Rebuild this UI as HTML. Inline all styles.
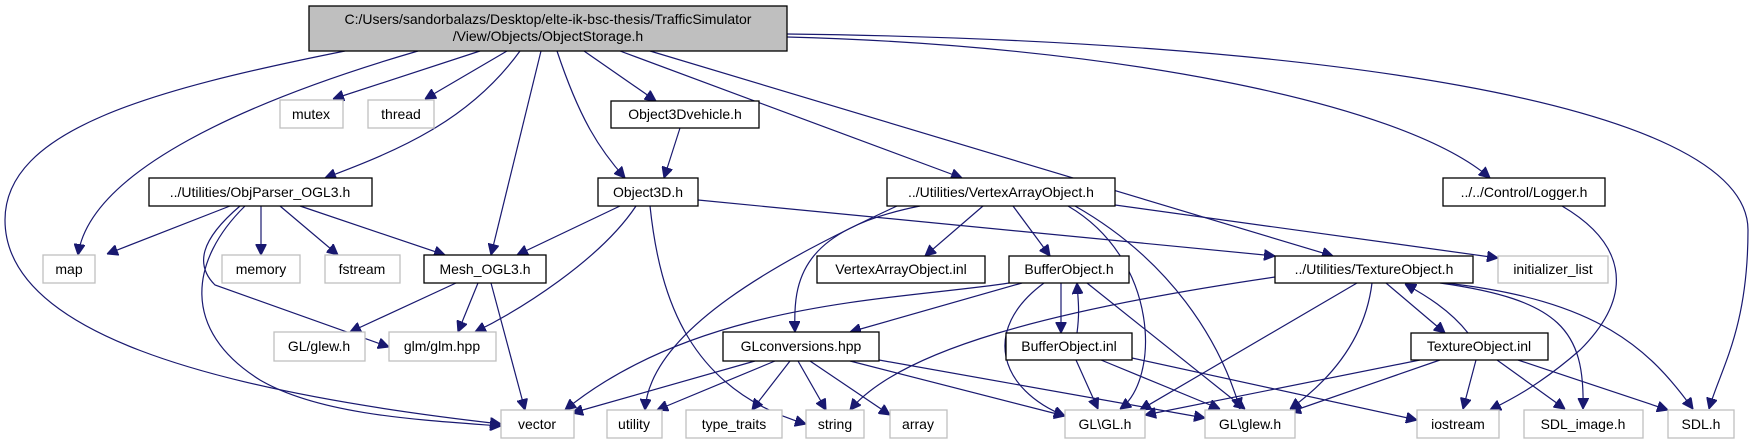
<!DOCTYPE html>
<html><head><meta charset="utf-8"><style>
html,body{margin:0;padding:0;background:#fff;}
svg{display:block;}
text{font-family:"Liberation Sans",Arial,sans-serif;font-size:14px;text-anchor:middle;fill:#000;}
.e{fill:none;stroke:#191970;stroke-width:1.2;marker-end:url(#a);}
.g{fill:#fff;stroke:#bfbfbf;stroke-width:1.3;}
.b{fill:#fff;stroke:#000;stroke-width:1.3;}
</style></head><body>
<svg width="1753" height="444" viewBox="0 0 1753 444" xmlns="http://www.w3.org/2000/svg">
<defs><marker id="a" viewBox="0 0 10 10" refX="10" refY="5" markerWidth="11" markerHeight="11" markerUnits="userSpaceOnUse" orient="auto"><path d="M0,0 L10,5 L0,10 z" fill="#191970" stroke="#191970"/></marker></defs>

<!-- edges -->
<path class="e" d="M345,51 C150,90 5,130 5,220 C5,330 200,390 501,424"/>
<path class="e" d="M418,51 C250,100 90,170 78,255"/>
<path class="e" d="M480,51 L333,99"/>
<path class="e" d="M507,51 L425,99"/>
<path class="e" d="M520,51 C470,120 400,150 325,178"/>
<path class="e" d="M541,51 L491,255"/>
<path class="e" d="M557,51 C580,120 600,150 625,178"/>
<path class="e" d="M584,51 L656,101"/>
<path class="e" d="M620,51 L962,178"/>
<path class="e" d="M650,51 L1333,256"/>
<path class="e" d="M787,37 C1100,45 1400,100 1490,178"/>
<path class="e" d="M787,34 C1300,40 1748,100 1748,230 C1748,330 1720,370 1709,409"/>
<path class="e" d="M680,128 L664,178"/>
<path class="e" d="M230,206 L107,254"/>
<path class="e" d="M261,206 L261,255"/>
<path class="e" d="M280,206 L338,255"/>
<path class="e" d="M300,206 L445,255"/>
<path class="e" d="M240,206 C200,240 195,265 215,285 L389,347"/>
<path class="e" d="M245,206 C190,260 180,330 260,380 C320,415 420,420 501,426"/>
<path class="e" d="M620,206 L517,255"/>
<path class="e" d="M636,206 C600,260 520,310 475,332"/>
<path class="e" d="M650,206 C660,300 690,390 806,424"/>
<path class="e" d="M698,200 L1275,256"/>
<path class="e" d="M456,283 L350,332"/>
<path class="e" d="M478,283 L458,332"/>
<path class="e" d="M491,283 L525,410"/>
<path class="e" d="M920,206 C800,230 793,280 795,332"/>
<path class="e" d="M897,206 C780,260 650,330 645,410"/>
<path class="e" d="M983,206 L925,256"/>
<path class="e" d="M1013,206 L1050,256"/>
<path class="e" d="M1068,206 C1160,260 1160,380 1120,409"/>
<path class="e" d="M1075,206 C1170,260 1220,340 1240,409"/>
<path class="e" d="M1115,205 L1498,258"/>
<path class="e" d="M1009,283 C900,300 700,300 565,410"/>
<path class="e" d="M1022,283 L850,332"/>
<path class="e" d="M1044,283 C980,330 1000,390 1065,416"/>
<path class="e" d="M1061,283 L1061,333"/>
<path class="e" d="M1077,333 C1080,310 1078,300 1077,283"/>
<path class="e" d="M1087,283 L1245,409"/>
<path class="e" d="M1076,360 L1098,409"/>
<path class="e" d="M1101,360 L1220,409"/>
<path class="e" d="M1132,358 L1417,420"/>
<path class="e" d="M755,361 L572,413"/>
<path class="e" d="M775,361 L657,410"/>
<path class="e" d="M790,361 L752,410"/>
<path class="e" d="M798,361 L826,410"/>
<path class="e" d="M810,361 L890,415"/>
<path class="e" d="M850,361 L1065,416"/>
<path class="e" d="M879,360 L1205,418"/>
<path class="e" d="M1275,277 C1050,310 900,350 850,410"/>
<path class="e" d="M1357,283 L1140,410"/>
<path class="e" d="M1372,283 C1365,340 1330,380 1290,409"/>
<path class="e" d="M1386,283 L1445,333"/>
<path class="e" d="M1468,333 C1450,310 1425,295 1405,284"/>
<path class="e" d="M1440,283 C1560,300 1585,330 1583,409"/>
<path class="e" d="M1445,283 C1600,300 1650,350 1693,409"/>
<path class="e" d="M1420,360 L1145,415"/>
<path class="e" d="M1440,360 L1290,412"/>
<path class="e" d="M1476,360 L1463,409"/>
<path class="e" d="M1497,360 L1565,409"/>
<path class="e" d="M1518,360 L1668,410"/>
<path class="e" d="M1562,206 C1620,240 1640,290 1580,350 C1540,385 1510,400 1490,410"/>

<!-- nodes -->
<rect x="309" y="6" width="478" height="45" fill="#bfbfbf" stroke="#000" stroke-width="1.3"/>
<text x="548" y="24">C:/Users/sandorbalazs/Desktop/elte-ik-bsc-thesis/TrafficSimulator</text>
<text x="548" y="41">/View/Objects/ObjectStorage.h</text>

<rect class="g" x="280" y="100" width="63" height="28"/><text x="311" y="119">mutex</text>
<rect class="g" x="368" y="100" width="66" height="28"/><text x="401" y="119">thread</text>
<rect class="b" x="611" y="101" width="148" height="27"/><text x="685" y="119">Object3Dvehicle.h</text>
<rect class="b" x="149" y="178" width="223" height="28"/><text x="260" y="197">../Utilities/ObjParser_OGL3.h</text>
<rect class="b" x="598" y="178" width="100" height="28"/><text x="648" y="197">Object3D.h</text>
<rect class="b" x="887" y="178" width="228" height="28"/><text x="1001" y="197">../Utilities/VertexArrayObject.h</text>
<rect class="b" x="1443" y="178" width="162" height="28"/><text x="1524" y="197">../../Control/Logger.h</text>

<rect class="g" x="43" y="255" width="52" height="28"/><text x="69" y="274">map</text>
<rect class="g" x="222" y="255" width="78" height="28"/><text x="261" y="274">memory</text>
<rect class="g" x="325" y="255" width="75" height="28"/><text x="362" y="274">fstream</text>
<rect class="b" x="424" y="255" width="122" height="28"/><text x="485" y="274">Mesh_OGL3.h</text>
<rect class="b" x="817" y="256" width="168" height="27"/><text x="901" y="274">VertexArrayObject.inl</text>
<rect class="b" x="1009" y="256" width="120" height="27"/><text x="1069" y="274">BufferObject.h</text>
<rect class="b" x="1275" y="256" width="198" height="27"/><text x="1374" y="274">../Utilities/TextureObject.h</text>
<rect class="g" x="1498" y="256" width="110" height="27"/><text x="1553" y="274">initializer_list</text>

<rect class="g" x="274" y="332" width="91" height="29"/><text x="319" y="351">GL/glew.h</text>
<rect class="g" x="389" y="332" width="107" height="29"/><text x="442" y="351">glm/glm.hpp</text>
<rect class="b" x="723" y="332" width="156" height="29"/><text x="801" y="351">GLconversions.hpp</text>
<rect class="b" x="1006" y="333" width="126" height="27"/><text x="1069" y="351">BufferObject.inl</text>
<rect class="b" x="1411" y="333" width="137" height="27"/><text x="1479" y="351">TextureObject.inl</text>

<rect class="g" x="501" y="410" width="73" height="28"/><text x="537" y="429">vector</text>
<rect class="g" x="607" y="410" width="55" height="28"/><text x="634" y="429">utility</text>
<rect class="g" x="686" y="410" width="96" height="28"/><text x="734" y="429">type_traits</text>
<rect class="g" x="806" y="410" width="58" height="28"/><text x="835" y="429">string</text>
<rect class="g" x="890" y="410" width="57" height="28"/><text x="918" y="429">array</text>
<rect class="g" x="1065" y="410" width="80" height="28"/><text x="1105" y="429">GL\GL.h</text>
<rect class="g" x="1205" y="410" width="90" height="28"/><text x="1250" y="429">GL\glew.h</text>
<rect class="g" x="1417" y="410" width="82" height="28"/><text x="1458" y="429">iostream</text>
<rect class="g" x="1524" y="410" width="119" height="28"/><text x="1583" y="429">SDL_image.h</text>
<rect class="g" x="1668" y="410" width="66" height="28"/><text x="1701" y="429">SDL.h</text>
</svg>
</body></html>
